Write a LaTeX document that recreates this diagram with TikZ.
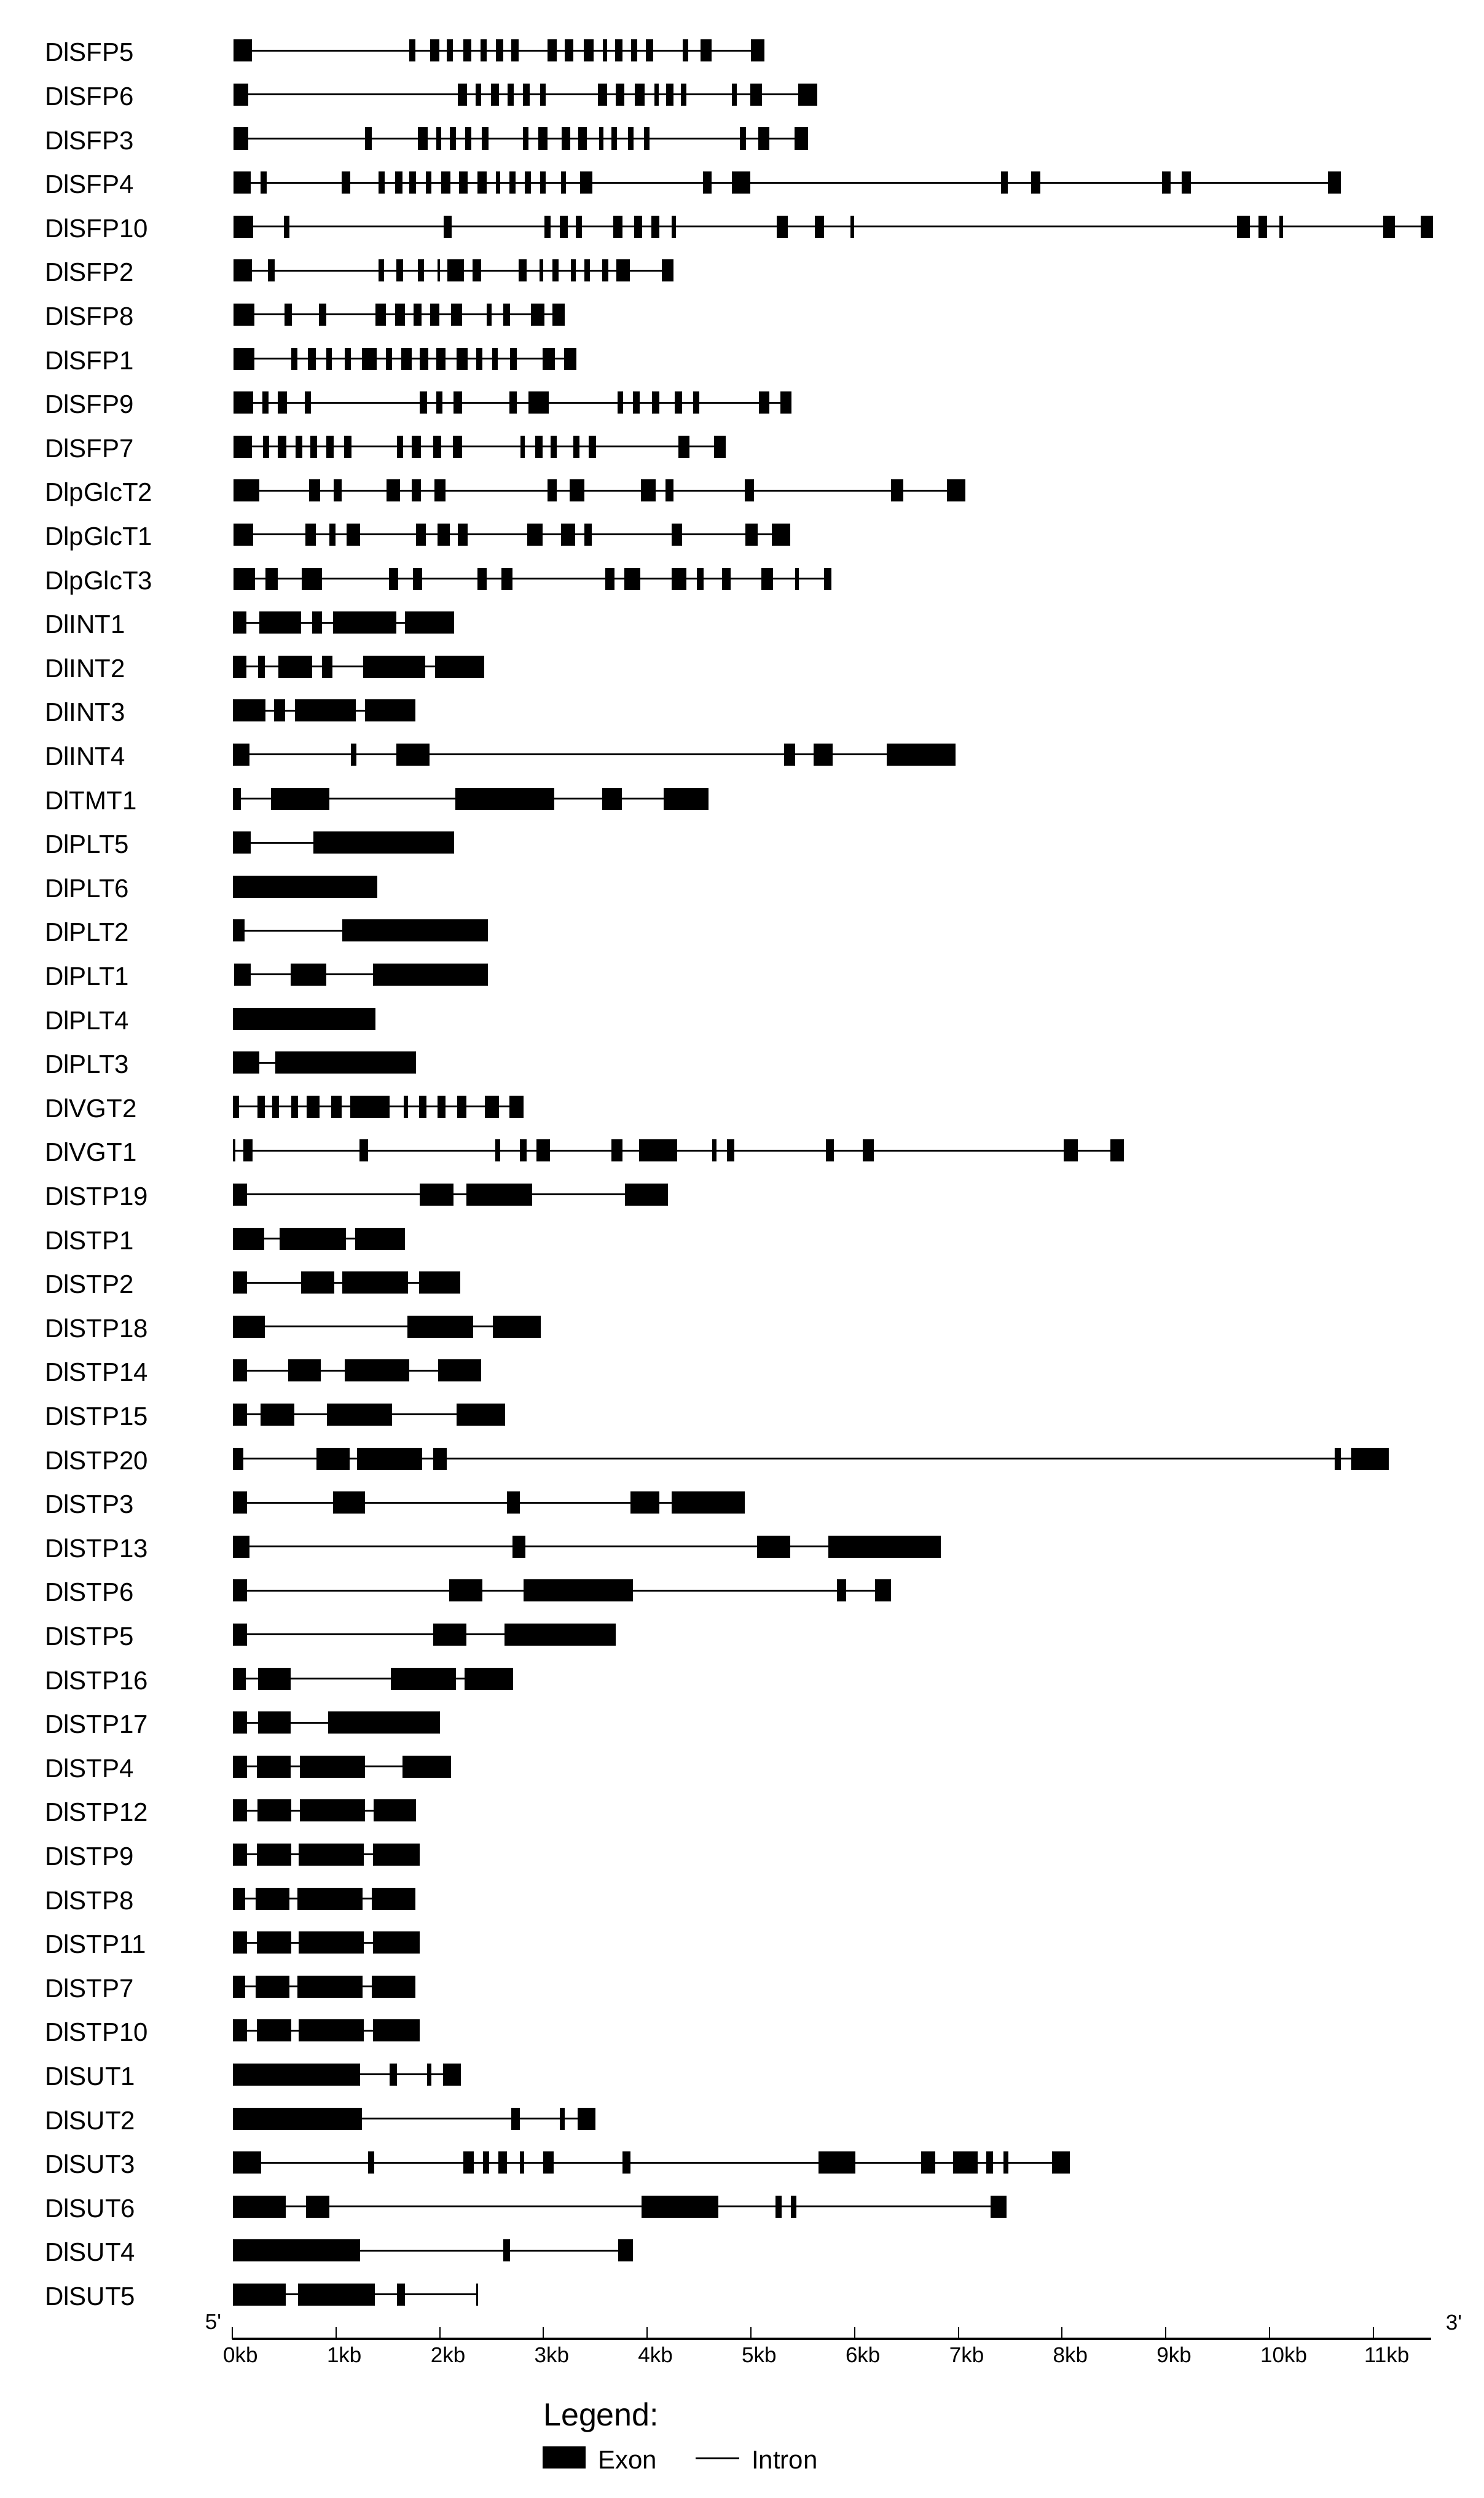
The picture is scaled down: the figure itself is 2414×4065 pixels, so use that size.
\documentclass[tikz,border=0pt]{standalone}
\usepackage{fontspec}
\setmainfont{Liberation Sans}
% row centre (reference pixels)
\newcommand\rowy{0}
\newcommand\geneline[3]{\pgfmathsetmacro\rowy{82.3+71.6*#1}\draw[intron] (#2,\rowy) -- (#3,\rowy);}
\newcommand\exons[2]{\pgfmathsetmacro\rowy{82.3+71.6*#1}\foreach \a/\b in {#2}{\fill[exon] (\a,\rowy-18) rectangle (\b,\rowy+18);}}
\newcommand\gene[4]{\geneline{#1}{#2}{#3}\exons{#1}{#4}}
\begin{document}
\begin{tikzpicture}[x=1pt,y=-1pt,
  exon/.style={fill=black},
  intron/.style={draw=black,line width=3pt},
  glabel/.style={anchor=base west,inner sep=0pt,font=\fontsize{42}{50}\selectfont},
  ticklabel/.style={anchor=west,inner sep=0pt,font=\fontsize{35}{42}\selectfont},
  endlabel/.style={inner sep=0pt,font=\fontsize{35}{42}\selectfont},
  legtext/.style={anchor=base west,inner sep=0pt,font=\fontsize{42}{50}\selectfont},
  axisline/.style={draw=black,line width=4pt},
  axistick/.style={draw=black,line width=2pt},
  zoomA/.style={xshift=350pt,xscale=0.6698},
  zoomB/.style={xshift=1350pt,xscale=0.6378},
  zoomC/.style={xshift=350pt,xscale=0.7015},
  zoomD/.style={xshift=1300pt,xscale=0.6378},
  zoomE/.style={xshift=350pt,xscale=0.8929}]
\useasboundingbox (0,0) rectangle (2414,4065);
\fill[white] (0,0) rectangle (2414,4065);

% gene names
\foreach \i/\n in {0/DlSFP5,1/DlSFP6,2/DlSFP3,3/DlSFP4,4/DlSFP10,5/DlSFP2,6/DlSFP8,7/DlSFP1,8/DlSFP9,9/DlSFP7,
  10/DlpGlcT2,11/DlpGlcT1,12/DlpGlcT3,13/DlINT1,14/DlINT2,15/DlINT3,16/DlINT4,17/DlTMT1,
  18/DlPLT5,19/DlPLT6,20/DlPLT2,21/DlPLT1,22/DlPLT4,23/DlPLT3,24/DlVGT2,25/DlVGT1,
  26/DlSTP19,27/DlSTP1,28/DlSTP2,29/DlSTP18,30/DlSTP14,31/DlSTP15,32/DlSTP20,33/DlSTP3,
  34/DlSTP13,35/DlSTP6,36/DlSTP5,37/DlSTP16,38/DlSTP17,39/DlSTP4,40/DlSTP12,41/DlSTP9,
  42/DlSTP8,43/DlSTP11,44/DlSTP7,45/DlSTP10,46/DlSUT1,47/DlSUT2,48/DlSUT3,49/DlSUT6,
  50/DlSUT4,51/DlSUT5}
  {\node[glabel] (g\i) at (73,{82.3+71.6*\i+17.5}) {\n};}

% long genes: intron lines in absolute units
\geneline{3}{380}{2182}
\geneline{4}{380}{2332}
\geneline{10}{380}{1571}
\geneline{16}{380}{1555}
\geneline{25}{379}{1829}
\geneline{32}{379}{2260}
\exons{16}{1443/1555}
\exons{32}{2172/2182,2199/2260}

\begin{scope}[zoomA]
\gene{0}{45}{1335}{45/90,472/487,523/545,563/578,603/622,645/660,683/700,720/738,808/830,850/870,896/920,942/952,972/990,1010/1025,1047/1065,1136/1150,1180/1207,1302/1335}
\gene{1}{45}{1463}{45/80,590/612,633/647,670/690,710/725,748/765,790/803,930/953,973/995,1020/1043,1067/1078,1096/1113,1132/1145,1255/1268,1300/1328,1417/1463}
\gene{2}{45}{1441}{45/80,365/380,493/517,537/550,570/585,608/623,648/665,748/762,785/807,842/863,883/903,933/943,963/977,1003/1016,1042/1055,1275/1290,1320/1347,1408/1441}
\exons{3}{45/87,110/125,307/328,397/412,437/455,472/488,512/525,550/572,593/613,638/660,683/693,715/730,752/767,790/803,840/853,887/917,1185/1207,1255/1300}
\exons{4}{45/93,167/180,555/575,800/815,838/857,877/892,968/990,1018/1037,1060/1080,1110/1120,1365/1392,1457/1480,1543/1553}
\gene{5}{45}{1113}{45/90,128/145,397/410,440/457,493/508,540/547,565/605,625/647,738/757,788/797,820/835,865/877,898/910,940/955,975/1007,1085/1113}
\gene{6}{45}{850}{45/95,168/187,252/270,390/415,437/462,482/502,522/545,573/600,660/672,700/717,768/800,820/850}
\gene{7}{45}{878}{45/95,185/200,225/245,270/283,315/330,357/393,415/430,452/477,497/518,538/560,587/613,635/650,673/687,717/733,795/825,848/878}
\gene{8}{45}{1400}{45/93,115/130,152/175,218/233,497/515,537/553,580/600,715/733,762/810,978/992,1015/1032,1062/1080,1117/1135,1162/1177,1322/1347,1373/1400}
\gene{9}{45}{1240}{45/90,117/132,152/173,195/212,232/248,270/288,313/332,442/457,478/500,530/550,578/600,742/752,778/795,815/830,870/885,908/925,1125/1153,1213/1240}
\exons{10}{45/108,228/255,288/307,417/450,477/500,533/560,807/830,862/897,1035/1070,1095/1113,1287/1310}
\gene{11}{45}{1397}{45/93,220/245,278/293,320/352,488/512,540/570,590/613,758/795,840/875,897/915,1110/1135,1288/1318,1352/1397}
\gene{12}{45}{1497}{45/97,122/153,210/260,422/445,480/503,637/660,695/722,948/970,995/1033,1110/1145,1170/1187,1232/1252,1327/1355,1410/1418,1480/1497}
\end{scope}

\begin{scope}[zoomB]
\exons{3}{437/455,515/537,848/870,898/922,1272/1305}
\exons{4}{1040/1072,1095/1117,1147/1157,1413/1442,1508/1540}
\exons{10}{157/188,300/347}
\end{scope}

\begin{scope}[zoomC]
\gene{13}{42}{555}{42/73,103/200,225/248,273/420,441/555}
\gene{14}{42}{625}{42/73,100/115,147/225,248/272,343/487,510/625}
\gene{15}{42}{465}{42/117,137/163,185/327,348/465}
\exons{16}{42/80,315/328,420/498,1320/1345,1388/1432}
\gene{17}{42}{1145}{42/60,130/265,558/787,898/943,1040/1145}
\gene{18}{42}{555}{42/82,228/555}
\gene{19}{42}{376}{42/376}
\gene{20}{42}{633}{42/68,295/633}
\gene{21}{44}{633}{44/82,176/258,367/633}
\gene{22}{42}{372}{42/372}
\gene{23}{42}{466}{42/103,140/466}
\gene{24}{42}{715}{42/55,98/115,133/148,177/192,213/242,270/293,313/405,437/447,473/490,516/535,562/583,626/658,683/715}
\exons{25}{42/47,65/87,335/355,650/662,707/722,745/777,920/945,983/1072,1153/1163,1187/1205,1417/1435,1503/1528}
\end{scope}

\begin{scope}[zoomD]
\exons{25}{675/712,795/830}
\end{scope}

\begin{scope}[zoomE]
\gene{26}{33}{825}{33/58,373/435,458/578,747/825}
\gene{27}{33}{346}{33/90,118/238,255/346}
\gene{28}{33}{447}{33/58,157/217,232/352,372/447}
\gene{29}{33}{594}{33/91,351/470,506/594}
\gene{30}{33}{485}{33/58,133/193,236/354,407/485}
\gene{31}{33}{529}{33/58,83/144,204/322,440/529}
\exons{32}{33/52,185/245,259/377,398/422}
\gene{33}{33}{965}{33/58,215/273,532/556,757/810,832/965}
\gene{34}{33}{1323}{33/63,542/566,988/1048,1118/1323}
\gene{35}{33}{1232}{33/58,427/487,562/762,1133/1150,1203/1232}
\gene{36}{33}{730}{33/58,398/458,527/730}
\gene{37}{33}{543}{33/56,78/138,320/439,455/543}
\gene{38}{33}{410}{33/58,78/138,206/410}
\gene{39}{33}{430}{33/58,76/138,155/273,342/430}
\gene{40}{33}{366}{33/58,77/139,154/273,289/366}
\gene{41}{33}{373}{33/58,76/139,152/271,288/373}
\gene{42}{33}{365}{33/55,74/135,150/269,286/365}
\gene{43}{33}{373}{33/58,76/139,152/271,288/373}
\gene{44}{33}{365}{33/55,74/135,150/269,286/365}
\gene{45}{33}{373}{33/58,76/139,152/271,288/373}
\gene{46}{33}{448}{33/264,318/332,386/394,416/448}
\gene{47}{33}{693}{33/268,540/555,628/637,661/693}
\gene{48}{33}{1558}{33/84,279/290,453/471,488/500,516/532,556/563,598/617,742/757,1100/1167,1287/1313,1345/1390,1405/1418,1437/1446,1525/1558}
\gene{49}{33}{1443}{33/129,166/208,777/917,1021/1033,1049/1059,1413/1443}
\gene{50}{33}{762}{33/264,525/538,735/762}
\gene{51}{33}{478}{33/129,151/291,332/346,476/479}
\end{scope}

% scale axis
\coordinate (ax0) at (378,3806);
\coordinate (ax1) at (2329,3806);
\draw[axisline] (ax0) -- (ax1);
\foreach \k in {0,...,11}{
  \coordinate (tb\k) at ({378+168.8*\k},3806);
  \coordinate (tt\k) at ({378+168.8*\k},3787);
  \draw[axistick] (tb\k) -- (tt\k);
  \node[ticklabel] (t\k) at ({378+168.8*\k-15},3832) {\k kb};
}
\node[endlabel] (five) at (347,3779) {5\textquotesingle};
\node[endlabel] (three) at (2366,3779) {3\textquotesingle};

% legend
\node[anchor=base west,inner sep=0pt,font=\fontsize{52}{62}\selectfont] (legtitle) at (884,3947) {Legend:};
\node[exon,anchor=south west,inner sep=0pt,minimum width=70pt,minimum height=36pt] (legexon) at (883,4017) {};
\node[legtext] (legexonlbl) at (973,4017) {Exon};
\coordinate (li0) at (1132,4000);
\coordinate (li1) at (1203,4000);
\draw[intron] (li0) -- (li1);
\node[legtext] (legintronlbl) at (1223,4017) {Intron};
\end{tikzpicture}
\end{document}
